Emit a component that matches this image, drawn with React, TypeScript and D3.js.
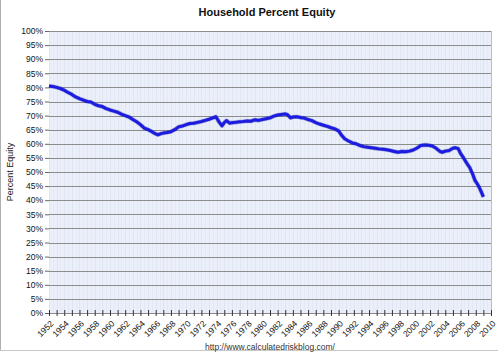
import React, { useEffect, useRef } from 'react';
import * as d3 from 'd3';

// Household owners' equity as percent of household real estate (quarterly-ish reads)
const years = [
  1952.0, 1952.5, 1953.0, 1953.5, 1954.0, 1954.5, 1955.0, 1955.5, 1956.0, 1956.5,
  1957.0, 1957.5, 1958.0, 1958.5, 1959.0, 1959.5, 1960.0, 1960.5, 1961.0, 1961.5,
  1962.0, 1962.5, 1963.0, 1963.5, 1964.0, 1964.5, 1965.0, 1965.5, 1966.0, 1966.3,
  1966.7, 1967.0, 1967.5, 1968.0, 1968.5, 1969.0, 1969.5, 1970.0, 1970.5, 1971.0,
  1971.5, 1972.0, 1972.5, 1973.0, 1973.5, 1973.9, 1974.3, 1974.7, 1975.0, 1975.3,
  1975.7, 1976.0, 1976.5, 1977.0, 1977.5, 1978.0, 1978.5, 1979.0, 1979.5, 1980.0,
  1980.5, 1981.0, 1981.5, 1982.0, 1982.5, 1983.0, 1983.3, 1983.7, 1984.0, 1984.5,
  1985.0, 1985.5, 1986.0, 1986.5, 1987.0, 1987.5, 1988.0, 1988.5, 1989.0, 1989.5,
  1990.0, 1990.4, 1990.8, 1991.3, 1991.8, 1992.3, 1992.8, 1993.3, 1993.8, 1994.3,
  1994.8, 1995.3, 1995.8, 1996.3, 1996.8, 1997.3, 1997.8, 1998.3, 1998.8, 1999.3,
  1999.8, 2000.3, 2000.8, 2001.3, 2001.8, 2002.3, 2002.8, 2003.3, 2003.6, 2004.0,
  2004.5, 2005.0, 2005.3, 2005.7, 2006.0, 2006.4, 2006.8, 2007.2, 2007.6, 2007.9,
  2008.2, 2008.5, 2008.75, 2009.0,
];
const equity = [
  80.5, 80.3, 80.0, 79.6, 79.0, 78.2, 77.5, 76.6, 76.0, 75.5,
  75.0, 74.8, 74.0, 73.5, 73.2, 72.5, 72.0, 71.6, 71.2, 70.5,
  70.0, 69.5, 68.6, 67.8, 66.8, 65.6, 65.0, 64.3, 63.5, 63.2,
  63.6, 63.8, 64.0, 64.3, 65.0, 66.0, 66.3, 66.8, 67.2, 67.3,
  67.6, 67.9, 68.3, 68.7, 69.2, 69.6, 67.8, 66.4, 67.5, 68.2,
  67.3, 67.5, 67.6, 67.8, 67.9, 68.1, 68.0, 68.5, 68.3, 68.6,
  68.9, 69.2, 69.8, 70.2, 70.4, 70.6, 70.3, 69.2, 69.5, 69.6,
  69.3, 69.1, 68.6, 68.2, 67.5, 67.0, 66.6, 66.2, 65.7, 65.3,
  64.6, 63.0, 61.8, 61.0, 60.3, 60.0, 59.4, 59.0, 58.8, 58.6,
  58.4, 58.2, 58.1, 57.9, 57.6, 57.3, 57.0, 57.3, 57.2, 57.4,
  57.8, 58.5, 59.4, 59.6, 59.5, 59.2, 58.4, 57.3, 57.0, 57.4,
  57.6, 58.4, 58.6, 58.3, 56.6, 55.0, 53.2, 51.6, 49.2, 47.0,
  45.8, 44.3, 42.8, 41.2,
];
const yTicks = [0, 5, 10, 15, 20, 25, 30, 35, 40, 45, 50, 55, 60, 65, 70, 75, 80, 85, 90, 95, 100];
const xLabelYears = d3.range(1952, 2011, 2);
const xTickYears = d3.range(1952, 2011, 1);

const W = 498;
const H = 354;

export default function App() {
  const ref = useRef<SVGSVGElement>(null);

  useEffect(() => {
    const margin = { top: 31, right: 7, bottom: 41, left: 49 };
    const iw = W - margin.left - margin.right;
    const ih = H - margin.top - margin.bottom;

    const root = d3.select(ref.current).html('');
    root.append('rect').attr('width', W).attr('height', H).attr('fill', '#fff');
    // frame edges
    root.append('line').attr('x1', 0.5).attr('x2', 0.5).attr('y1', 0).attr('y2', 350)
      .attr('stroke', '#b0b0b0');
    root.append('line').attr('x1', 0).attr('x2', W).attr('y1', 350.5).attr('y2', 350.5)
      .attr('stroke', '#c8c8c8');

    const font = 'Arial, "Liberation Sans", sans-serif';

    root.append('text')
      .attr('x', 267).attr('y', 16)
      .attr('text-anchor', 'middle')
      .style('font', `bold 11px ${font}`)
      .attr('fill', '#111')
      .text('Household Percent  Equity');

    root.append('text')
      .attr('transform', `translate(13,${margin.top + ih / 2}) rotate(-90)`)
      .attr('text-anchor', 'middle')
      .style('font', `9px ${font}`)
      .attr('fill', '#222')
      .text('Percent Equity');

    root.append('text')
      .attr('x', 270).attr('y', 350)
      .attr('text-anchor', 'middle')
      .style('font', `8.5px ${font}`)
      .attr('fill', '#333')
      .text('http://www.calculatedriskblog.com/');

    const g = root.append('g').attr('transform', `translate(${margin.left},${margin.top})`);

    const x = d3.scaleLinear().domain([1952, 2010]).range([0, iw]);
    const y = d3.scaleLinear().domain([0, 100]).range([ih, 0]);

    g.append('rect').attr('width', iw).attr('height', ih).attr('fill', '#eaeff9');

    // faint vertical grid
    g.append('g').selectAll('line').data(d3.range(1952, 2010, 0.5)).join('line')
      .attr('x1', d => Math.round(x(d)) + 0.5).attr('x2', d => Math.round(x(d)) + 0.5)
      .attr('y1', 0).attr('y2', ih)
      .attr('stroke', (d, i) => (i % 2 === 0 ? '#dde4f2' : '#e4e9f5'));

    // horizontal grid
    g.append('g').selectAll('line').data(yTicks.filter(d => d > 0)).join('line')
      .attr('x1', 0).attr('x2', iw)
      .attr('y1', d => Math.round(y(d)) + 0.5).attr('y2', d => Math.round(y(d)) + 0.5)
      .attr('stroke', '#8c8c8c');

    // right border
    g.append('line').attr('x1', iw + 0.5).attr('x2', iw + 0.5).attr('y1', 0).attr('y2', ih)
      .attr('stroke', '#b8bccb');

    // y axis
    const yAxis = g.append('g')
      .call(d3.axisLeft(y).tickValues(yTicks).tickSize(4).tickPadding(2).tickFormat(d => `${d}%`));
    yAxis.select('.domain').remove();
    yAxis.selectAll('.tick line').attr('stroke', '#666');
    yAxis.selectAll('text').style('font', `8.5px ${font}`).attr('fill', '#111');

    // x axis
    const xAxis = g.append('g').attr('transform', `translate(0,${ih})`)
      .call(d3.axisBottom(x).tickValues(xTickYears).tickSize(3).tickFormat(() => ''));
    xAxis.select('.domain').attr('stroke', '#8c8c8c');
    xAxis.selectAll('.tick line').attr('stroke', '#333').attr('y1', -3);

    g.append('g').selectAll('text').data(xLabelYears).join('text')
      .attr('transform', d => `translate(${x(d) + 3},${ih + 9}) rotate(-45)`)
      .attr('text-anchor', 'end')
      .attr('dy', '0.35em')
      .style('font', `8.5px ${font}`)
      .attr('fill', '#111')
      .text(d => d);

    const pts = years.map((yr, i) => [yr, equity[i]] as [number, number]);
    const line = d3.line<[number, number]>().x(d => x(d[0])).y(d => y(d[1]));

    g.append('path').datum(pts)
      .attr('fill', 'none').attr('stroke', '#1010a0').attr('stroke-opacity', 0.35)
      .attr('stroke-width', 4.2).attr('stroke-linejoin', 'round').attr('d', line);
    g.append('path').datum(pts)
      .attr('fill', 'none').attr('stroke', '#1c1ce0')
      .attr('stroke-width', 3).attr('stroke-linejoin', 'round').attr('d', line);
  }, []);

  return (
    <svg ref={ref} width={W} height={H} style={{ position: 'absolute', left: 0, top: 0 }} />
  );
}
